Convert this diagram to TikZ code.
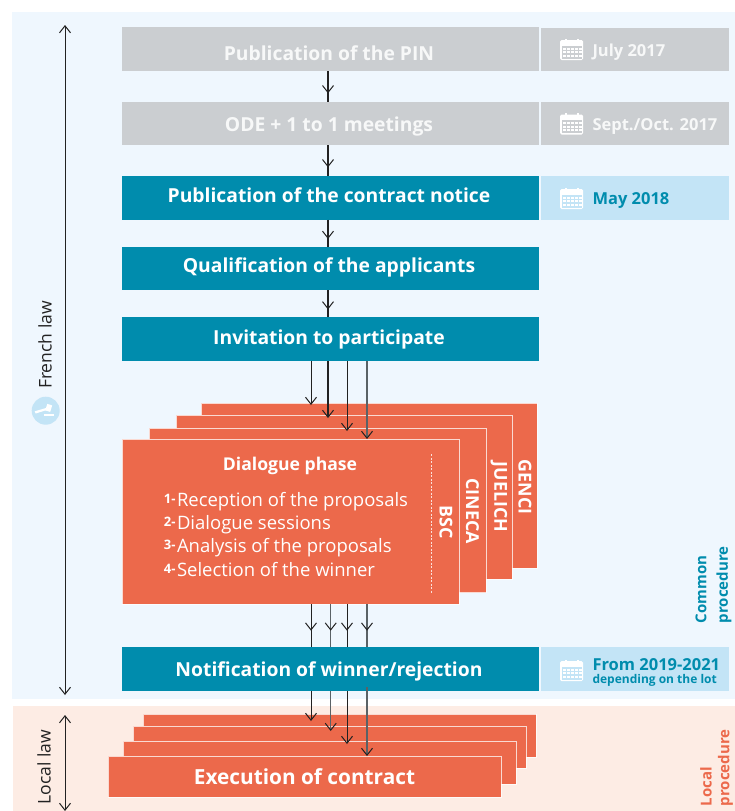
\documentclass[tikz,border=0pt]{standalone}
\usepackage{fontspec}
\setmainfont[BoldFont={Open Sans Bold}]{Open Sans}
\usetikzlibrary{arrows.meta,decorations.markings}
\definecolor{panelblue}{HTML}{EFF7FE}
\definecolor{panelpink}{HTML}{FDECE4}
\definecolor{greybox}{HTML}{CBCED1}
\definecolor{teal}{HTML}{008CAD}
\definecolor{paleblue}{HTML}{C3E4F6}
\definecolor{coral}{HTML}{EC694B}
\definecolor{ink}{HTML}{222222}
\definecolor{greyline}{HTML}{5A6266}
\tikzset{
  x=1pt,y=-1pt,
  every node/.style={inner sep=0pt,outer sep=0pt},
  >={Straight Barb[length=7pt,width=11pt,line width=1pt,color=ink]},
  box/.style 2 args={anchor=north west,minimum width=#1,minimum height=#2},
  stepbox/.style={fill=#1},
  steptext/.style={text=white,font=\fontsize{19.3}{22}\selectfont\bfseries},
  fadedtext/.style={text=white!85!greybox,font=\fontsize{19.3}{22}\selectfont\bfseries},
  datebox/.style={fill=#1,anchor=north west},
  sheet/.style={fill=coral,draw=white,draw opacity=.75,line width=.7pt},
  thick arrow/.style={draw=ink,line width=1.8pt},
  thin arrow/.style={draw=ink,line width=1pt},
  grey arrow/.style={draw=greyline,line width=1.2pt},
  tip at/.style={postaction={decorate},decoration={markings,mark=at position #1 with {\arrow{Straight Barb[length=7pt,width=11pt,line width=1pt,color=ink]}}}},
  datetext/.style={font=\fontsize{16.5}{18}\selectfont\bfseries,anchor=west},
  vert/.style={rotate=90,font=\fontsize{17.5}{20}\selectfont,text=ink},
  sidetext/.style={rotate=90,anchor=west,font=\fontsize{15}{17}\selectfont\bfseries},
  sheettext/.style={rotate=-90,text=white,font=\fontsize{17.8}{20}\selectfont\bfseries},
}
\newcommand{\calgrid}[3]{%
  \begin{scope}[shift={(#1,#2)}]
    \fill[white,rounded corners=1.5pt] (0,1.5) rectangle (23,21.5);
    \fill[#3] (1.5,7) rectangle (21.5,20);
    \fill[white] (4.5,0) rectangle (6.5,4);
    \fill[white] (16.5,0) rectangle (18.5,4);
    \foreach \cx in {3,7,11,15,19}
      \foreach \cy in {9,12.5,16}
        {\fill[white] (\cx,\cy) rectangle +(2.6,2.4);}
  \end{scope}}
\begin{document}
\begin{tikzpicture}
\useasboundingbox (0,0) rectangle (735,811);
\fill[white] (0,0) rectangle (735,811);
\fill[panelblue] (12,12) rectangle (735,699);
\fill[panelpink] (13,706) rectangle (735,811);

% axis ends
\coordinate (frenchtop) at (65,25);
\coordinate (frenchbot) at (65,695);
\coordinate (localtop) at (65,715);
\coordinate (localbot) at (65,811);
\draw[<->,ink,line width=1pt] (frenchtop) -- (frenchbot);
\draw[<->,ink,line width=1pt] (localtop) -- (localbot);
\node[vert] (french) at (45,345) {French law};
\node[vert] (local) at (44,767) {Local law};
\fill[paleblue] (45.7,410.7) circle (14);
\begin{scope}[shift={(45.7,410.7)}]
  \fill[white] (-11,0.6) -- (0,-2.6) -- (0.8,-0.6) -- (-10,2.8) -- cycle;
  \fill[white,rotate=-18] (-0.6,-7) rectangle (4.6,-0.2);
  \fill[white] (-1.3,3.6) rectangle (8,4.8);
\end{scope}

% main steps
\node[box={417}{44},stepbox=greybox] (pin) at (122,27) {};
\node[fadedtext] (pinlabel) at (329,53) {Publication of the PIN};
\node[box={417}{43},stepbox=greybox] (ode) at (122,102) {};
\node[fadedtext] (odelabel) at (329,126) {ODE + 1 to 1 meetings};
\node[box={417}{43.5},stepbox=teal] (notice) at (122,176) {};
\node[steptext] (noticelabel) at (329,195) {Publication of the contract notice};
\node[box={417}{43.5},stepbox=teal] (qual) at (122,246.5) {};
\node[steptext] (quallabel) at (329,267) {Qualification of the applicants};
\node[box={417}{44},stepbox=teal] (invite) at (122,317) {};
\node[steptext] (invitelabel) at (329,339) {Invitation to participate};
\node[box={417}{44},stepbox=teal] (notif) at (122,647) {};
\node[steptext] (notiflabel) at (329,671) {Notification of winner/rejection};

% date boxes
\node[box={188}{43.5},datebox=greybox] (d1) at (541,27.5) {};
\node[box={188}{43},datebox=greybox] (d2) at (541,102) {};
\node[box={188}{43.5},datebox=paleblue] (d3) at (541,176) {};
\node[box={188}{44},datebox=paleblue] (d4) at (541,647) {};
\calgrid{560}{38.5}{greybox}
\calgrid{560}{113}{greybox}
\calgrid{560}{187.5}{paleblue}
\calgrid{560}{659.5}{paleblue}
\node[datetext,text=white!85!greybox] (t1) at (592.5,52) {July 2017};
\node[datetext,text=white!85!greybox] (t2) at (592.5,126.5) {Sept./Oct. 2017};
\node[datetext,text=teal] (t3) at (592.5,200.5) {May 2018};
\node[datetext,text=teal] (t4) at (592.5,665) {From 2019-2021};
\node[anchor=west,text=teal,font=\fontsize{12}{13}\selectfont\bfseries] (t5) at (592.5,680.5) {depending on the lot};

% x positions of the connectors
\coordinate (xa) at (311,0);
\coordinate (xb) at (328,0);
\coordinate (xbb) at (330.7,0);
\coordinate (xc) at (347,0);
\coordinate (xd) at (367,0);

% sequential connectors
\draw[thick arrow,tip at=.72] (pin.south -| xb) -- (ode.north -| xb);
\draw[thick arrow,tip at=.72] (ode.south -| xb) -- (notice.north -| xb);
\draw[thick arrow,tip at=.72] (notice.south -| xb) -- (qual.north -| xb);
\draw[thick arrow,tip at=.72] (qual.south -| xb) -- (invite.north -| xb);

% dialogue sheets
\node[box={336}{165},sheet] (genci) at (201,403) {};
\node[box={336}{164},sheet] (juelich) at (176,415) {};
\node[box={337}{164.5},sheet] (cineca) at (149,428) {};
\node[box={337}{165},sheet] (bsc) at (122,439) {};
\coordinate (tipa) at (311,405);
\coordinate (tipb) at (328,418);
\coordinate (tipc) at (347,431);
\coordinate (tipd) at (367,439);
\draw[thin arrow,->] (invite.south -| xa) -- (tipa);
\draw[thick arrow,->] (invite.south -| xb) -- (tipb);
\draw[thin arrow,->] (invite.south -| xc) -- (tipc);
\draw[grey arrow,->] (invite.south -| xd) -- (tipd);

\node[sheettext] (ngenci) at (525,487) {GENCI};
\node[sheettext] (njuelich) at (499,497) {JUELICH};
\node[sheettext] (ncineca) at (472.5,511) {CINECA};
\node[sheettext] (nbsc) at (446,522.5) {BSC};
\coordinate (dashtop) at (431,454);
\coordinate (dashbot) at (431,594);
\draw[white,opacity=.8,line width=.8pt,dash pattern=on 2pt off 1.5pt] (dashtop) -- (dashbot);

\node[anchor=base,text=white,font=\fontsize{17.6}{20}\selectfont\bfseries] (dtitle) at (290,470) {Dialogue phase};
\foreach \yy/\nn/\tx in {506/1/Reception of the proposals,529/2/Dialogue sessions,552/3/Analysis of the proposals,576/4/Selection of the winner}{
  \node[anchor=base east,text=white,font=\fontsize{13}{15}\selectfont\bfseries] at (175.5,\yy-3) {\nn-};
  \node[anchor=base west,text=white,font=\fontsize{18.5}{20}\selectfont] at (177,\yy) {\tx};
}

% to notification
\draw[thin arrow,tip at=.62] (bsc.south -| xa) -- (notif.north -| xa);
\draw[grey arrow,tip at=.62] (bsc.south -| xbb) -- (notif.north -| xbb);
\draw[thin arrow,tip at=.62] (bsc.south -| xc) -- (notif.north -| xc);
\draw[grey arrow,tip at=.62] (bsc.south -| xd) -- (notif.north -| xd);

% execution sheets
\node[box={393}{43},sheet] (ex1) at (143,714) {};
\node[box={393}{42},sheet] (ex2) at (133,726) {};
\node[box={393}{43},sheet] (ex3) at (123,741) {};
\node[box={393}{41},sheet] (ex4) at (108,756) {};
\coordinate (tipe) at (311,721);
\coordinate (tipf) at (330.7,731);
\coordinate (tipg) at (347,744);
\coordinate (tiph) at (367,756);
\draw[thin arrow,->] (notif.south -| xa) -- (tipe);
\draw[grey arrow,->] (notif.south -| xbb) -- (tipf);
\draw[thin arrow,->] (notif.south -| xc) -- (tipg);
\draw[grey arrow,->] (xd |- notif.south) ++(0,-4) -- (tiph);
\node[text=white,font=\fontsize{20.8}{23}\selectfont\bfseries] (exlabel) at (304.5,777) {Execution of contract};

% side labels
\node[sidetext,text=teal] (sa) at (701,623) {Common};
\node[sidetext,text=teal] (sb) at (724,623) {procedure};
\node[sidetext,text=coral] (sc) at (706,806) {Local};
\node[sidetext,text=coral] (sd) at (725.5,806) {procedure};
\end{tikzpicture}
\end{document}
